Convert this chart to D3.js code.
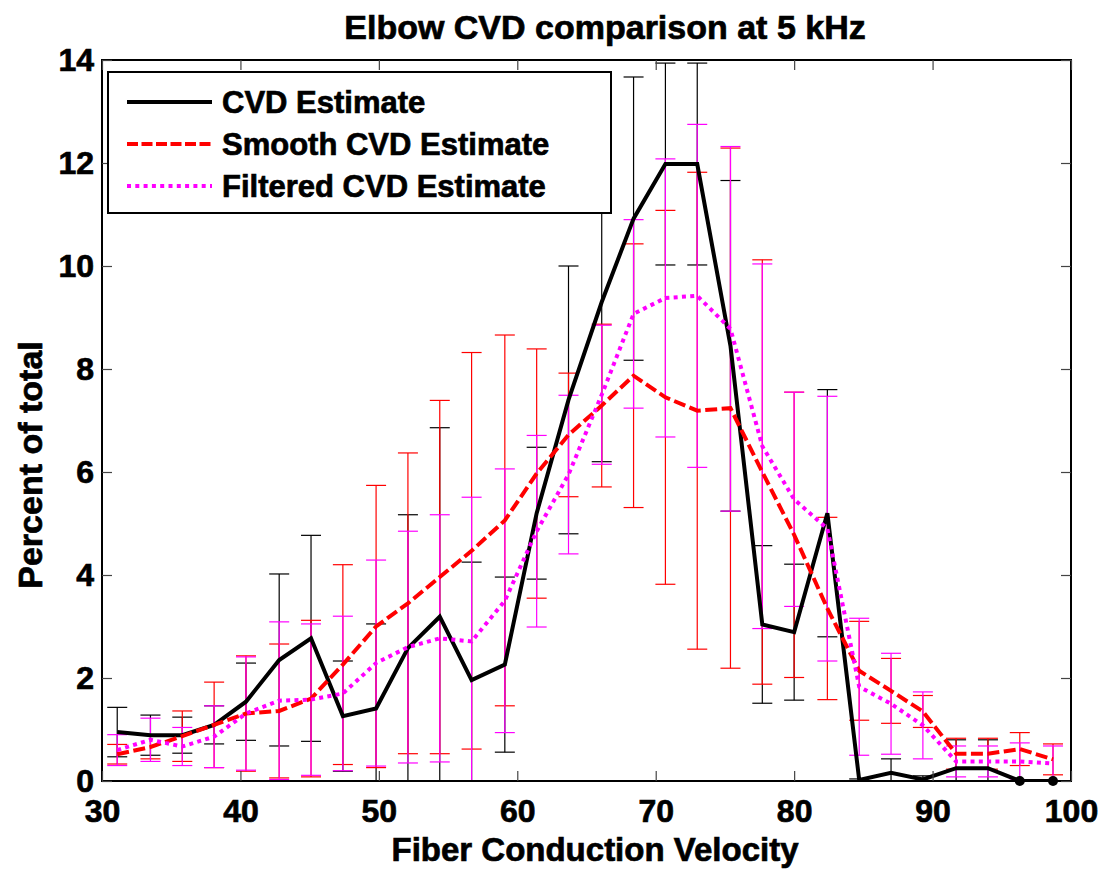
<!DOCTYPE html>
<html>
<head>
<meta charset="utf-8">
<script src="https://cdn.jsdelivr.net/npm/d3@7"></script>
<style>
  body { margin: 0; background: #fff; }
  text { font-family: "Liberation Sans", Arial, sans-serif; font-weight: bold; stroke: #000; stroke-width: 0.7px; }
</style>
</head>
<body>
<div id="chart"></div>
<script>
// velocity bins
const velocity = [31.1, 33.5, 35.8, 38.1, 40.4, 42.8, 45.1, 47.4, 49.8, 52.1, 54.4, 56.7, 59.1, 61.4, 63.7,
    66.1, 68.4, 70.7, 73.0, 75.4, 77.7, 80.0, 82.4, 84.7, 87.0, 89.3, 91.7, 94.0, 96.3, 98.7];

const cvd = [0.95, 0.89, 0.89, 1.09, 1.54, 2.35, 2.77, 1.26, 1.41, 2.58, 3.19, 1.96, 2.26, 5.2, 7.4,
    9.3, 10.92, 11.98, 11.98, 8.45, 3.04, 2.89, 5.2, 0.02, 0.16, 0.03, 0.25, 0.25, 0, 0];
const cvdErr = [0.48, 0.39, 0.35, 0.37, 0.75, 1.67, 2.0, 1.07, 1.64, 2.59, 3.67, 2.29, 1.70, 1.28, 2.6,
    3.1, 2.75, 1.96, 1.96, 3.21, 1.53, 1.32, 2.4, 0.02, 0.27, 0.07, 0.55, 0.55, 0, 0];

const smooth = [0.52, 0.66, 0.87, 1.09, 1.31, 1.36, 1.6, 2.26, 3.0, 3.45, 3.96, 4.47, 5.06, 5.97, 6.72,
    7.29, 7.87, 7.45, 7.19, 7.24, 6.0, 4.78, 3.35, 2.14, 1.75, 1.35, 0.53, 0.53, 0.62, 0.42];
const smoothErr = [0.19, 0.23, 0.49, 0.83, 1.12, 1.3, 1.52, 1.94, 2.74, 2.92, 3.43, 3.85, 3.6, 2.42, 1.2,
    1.58, 2.56, 3.63, 4.63, 5.05, 4.12, 2.77, 1.77, 0.96, 0.63, 0.31, 0.3, 0.3, 0.32, 0.3];

const filtered = [0.6, 0.8, 0.67, 0.86, 1.31, 1.56, 1.58, 1.7, 2.29, 2.6, 2.77, 2.71, 3.5, 4.85, 5.95,
    7.5, 9.07, 9.38, 9.42, 8.78, 6.5, 5.47, 4.9, 1.83, 1.5, 1.08, 0.38, 0.38, 0.38, 0.34];
const filteredErr = [0.3, 0.42, 0.37, 0.6, 1.1, 1.53, 1.47, 1.5, 2.0, 2.25, 2.4, 2.8, 2.56, 1.86, 1.54,
    1.35, 1.83, 2.7, 3.33, 3.54, 3.54, 2.08, 2.57, 1.33, 0.98, 0.65, 0.3, 0.3, 0.36, 0.34];

const xTicks = [30, 40, 50, 60, 70, 80, 90, 100];
const yTicks = [0, 2, 4, 6, 8, 10, 12, 14];

const series = [
    {name: "CVD Estimate", vals: cvd, err: cvdErr, color: "#000000", dash: null},
    {name: "Smooth CVD Estimate", vals: smooth, err: smoothErr, color: "#ff0000", dash: "12,4.5"},
    {name: "Filtered CVD Estimate", vals: filtered, err: filteredErr, color: "#ff00ff", dash: "4,4.3"}
];

const width = 1111, height = 871;
const pLeft = 102, pRight = 1071, pTop = 60, pBottom = 781;

const x = d3.scaleLinear().domain([30, 100]).range([pLeft, pRight]);
const y = d3.scaleLinear().domain([0, 14]).range([pBottom, pTop]);

const svg = d3.select("#chart").append("svg")
    .attr("width", width)
    .attr("height", height);

svg.append("clipPath").attr("id", "plotclip")
    .append("rect")
    .attr("x", pLeft).attr("y", pTop)
    .attr("width", pRight - pLeft).attr("height", pBottom - pTop);

const plot = svg.append("g").attr("clip-path", "url(#plotclip)");

// error bars first
series.forEach(s => {
    const g = plot.append("g");
    velocity.forEach((v, i) => {
        const cx = x(v);
        const hi = y(s.vals[i] + s.err[i]);
        const lo = y(s.vals[i] - s.err[i]);
        g.append("line").attr("x1", cx).attr("x2", cx).attr("y1", hi).attr("y2", lo)
            .attr("stroke", s.color).attr("stroke-width", 1.2);
        [hi, lo].forEach(yy => {
            g.append("line").attr("x1", cx - 10).attr("x2", cx + 10).attr("y1", yy).attr("y2", yy)
                .attr("stroke", s.color).attr("stroke-width", 1.2);
        });
    });
});

// lines
const line = d3.line().x((d, i) => x(velocity[i])).y(d => y(d));
series.forEach(s => {
    plot.append("path")
        .datum(s.vals)
        .attr("d", line)
        .attr("fill", "none")
        .attr("stroke", s.color)
        .attr("stroke-width", 4)
        .attr("stroke-dasharray", s.dash)
        .attr("stroke-linejoin", "miter");
});

// zero-width bars at the end show as dots
svg.selectAll("circle.zero")
    .data(velocity.filter((v, i) => cvdErr[i] === 0))
    .enter().append("circle")
    .attr("cx", d => x(d))
    .attr("cy", y(0))
    .attr("r", 5)
    .attr("fill", "#000");

// axes box with inward ticks
const tickLen = 10;
svg.append("rect")
    .attr("x", pLeft).attr("y", pTop)
    .attr("width", pRight - pLeft).attr("height", pBottom - pTop)
    .attr("fill", "none").attr("stroke", "#000").attr("stroke-width", 2);

const xAxis = d3.axisBottom(x).tickValues(xTicks).tickSizeInner(-tickLen).tickSizeOuter(0).tickPadding(18);
const gx = svg.append("g").attr("transform", `translate(0,${pBottom})`).call(xAxis);
const xTop = d3.axisTop(x).tickValues(xTicks).tickSizeInner(-tickLen).tickSizeOuter(0).tickFormat("");
const gxt = svg.append("g").attr("transform", `translate(0,${pTop})`).call(xTop);

const yAxis = d3.axisLeft(y).tickValues(yTicks).tickSizeInner(-tickLen).tickSizeOuter(0).tickPadding(8);
const gy = svg.append("g").attr("transform", `translate(${pLeft},0)`).call(yAxis);
const yRight = d3.axisRight(y).tickValues(yTicks).tickSizeInner(-tickLen).tickSizeOuter(0).tickFormat("");
const gyr = svg.append("g").attr("transform", `translate(${pRight},0)`).call(yRight);

[gx, gxt, gy, gyr].forEach(g => {
    g.select(".domain").remove();
    g.selectAll(".tick line").attr("stroke", "#444").attr("stroke-width", 1.2);
    g.selectAll(".tick text").attr("font-size", 32).attr("fill", "#000")
        .attr("font-family", "Liberation Sans, Arial, sans-serif").attr("font-weight", "bold");
});
gx.selectAll(".tick text").attr("dy", "0.71em");
gy.selectAll(".tick text").attr("dy", "0.32em");

// titles
svg.append("text")
    .attr("x", 605).attr("y", 39)
    .attr("text-anchor", "middle")
    .attr("font-size", 34)
    .text("Elbow CVD comparison at 5 kHz");

svg.append("text")
    .attr("x", 595).attr("y", 861)
    .attr("text-anchor", "middle")
    .attr("font-size", 33)
    .text("Fiber Conduction Velocity");

svg.append("text")
    .attr("transform", `translate(42,465) rotate(-90)`)
    .attr("text-anchor", "middle")
    .attr("font-size", 34)
    .text("Percent of total");

// legend
const legend = svg.append("g");
legend.append("rect")
    .attr("x", 108).attr("y", 72)
    .attr("width", 503).attr("height", 141)
    .attr("fill", "#fff").attr("stroke", "#000").attr("stroke-width", 2);

series.forEach((s, i) => {
    const ly = 102 + i * 42;
    legend.append("line")
        .attr("x1", 127).attr("x2", 212).attr("y1", ly).attr("y2", ly)
        .attr("stroke", s.color).attr("stroke-width", 4)
        .attr("stroke-dasharray", i === 1 ? "11,3.5" : s.dash);
    legend.append("text")
        .attr("x", 222).attr("y", ly).attr("dy", "0.36em")
        .attr("font-size", 31)
        .text(s.name);
});
</script>
</body>
</html>
